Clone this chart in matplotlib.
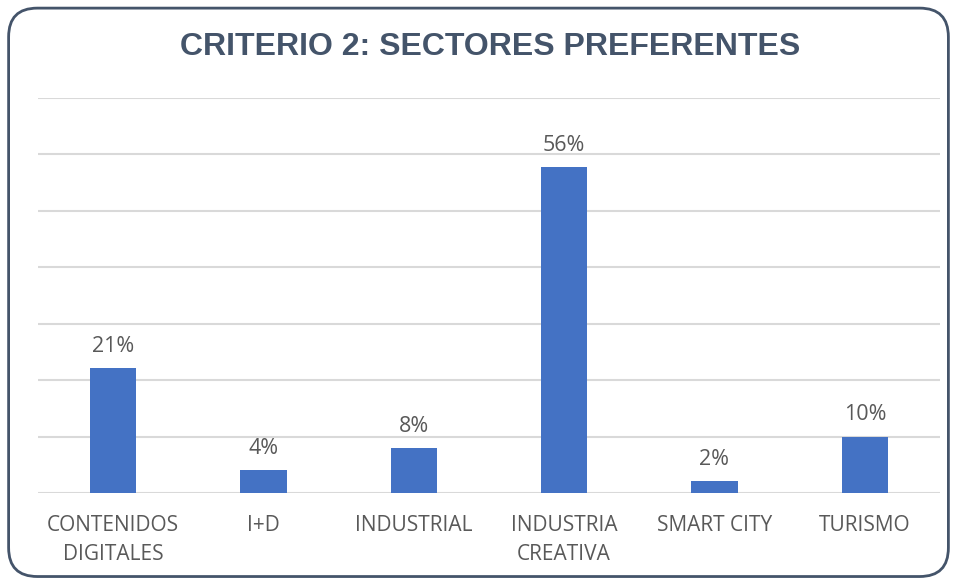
import matplotlib
matplotlib.use("Agg")
import matplotlib.pyplot as plt
from matplotlib.patches import FancyBboxPatch

# --------- DATA ----------
sectores = ["CONTENIDOS\nDIGITALES", "I+D", "INDUSTRIAL", "INDUSTRIA\nCREATIVA", "SMART CITY", "TURISMO"]
# bar heights (they don't exactly match the printed labels)
alturas = [22.1, 4.0, 8.0, 57.8, 2.1, 10.0]
etiquetas = ["21%", "4%", "8%", "56%", "2%", "10%"]
titulo = "CRITERIO 2: SECTORES PREFERENTES"

text_color = "#595959"
bar_color = "#4472C4"

fig = plt.figure(figsize=(9.57, 5.8), dpi=100)

# rounded border around the chart
border = FancyBboxPatch((0.009, 0.006), 0.982, 0.98,
                        boxstyle="round,pad=0,rounding_size=0.03",
                        transform=fig.transFigure, facecolor="none",
                        edgecolor="#44546A", linewidth=2, mutation_aspect=957 / 580,
                        zorder=5)
fig.patches.append(border)

ax = fig.add_axes([38 / 957, 1 - 493 / 580, 902 / 957, 395 / 580])
ax.set_facecolor("none")

x = range(len(sectores))
bars = ax.bar(x, alturas, width=0.31, color=bar_color, zorder=3)

for b, lab in zip(bars, etiquetas):
    ax.annotate(lab, (b.get_x() + b.get_width() / 2, b.get_height()),
                xytext=(0, 8), textcoords="offset points", ha="center", va="bottom",
                fontsize=15.5, color=text_color, family="Open Sans")

ax.set_xlim(-0.5, len(sectores) - 0.5)
ax.set_ylim(0, 70)
ax.set_yticks(range(0, 71, 10))
ax.yaxis.grid(True, color="#D9D9D9", linewidth=1.5, zorder=0)
ax.tick_params(axis="y", left=False, labelleft=False)
ax.tick_params(axis="x", bottom=False, pad=12)
ax.set_xticks(list(x))
ax.set_xticklabels(sectores, fontsize=15, color=text_color, family="Open Sans",
                   linespacing=1.5, va="top")
for s in ax.spines.values():
    s.set_visible(False)

fig.text(0.512, 1 - 47 / 580, titulo, ha="center", va="center", fontsize=23,
         fontweight="bold", color="#44546A", family="Liberation Sans")

fig.savefig("out.png", dpi=100)
